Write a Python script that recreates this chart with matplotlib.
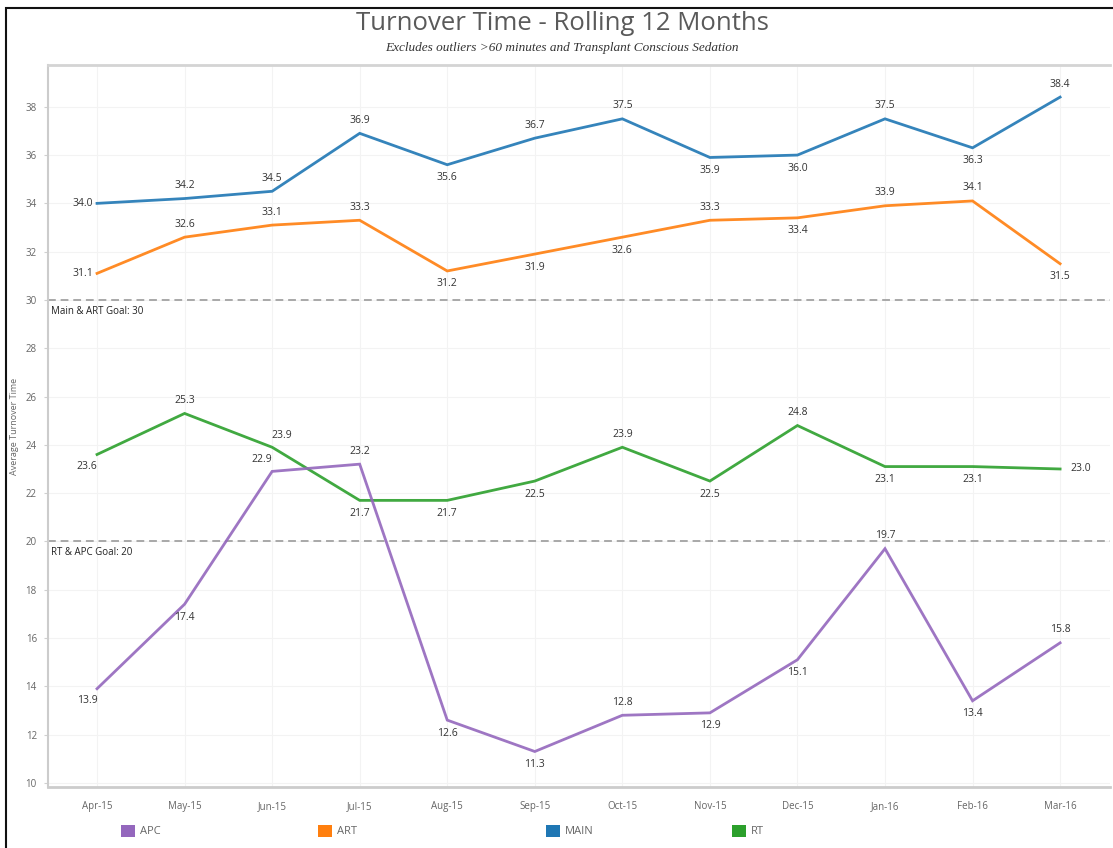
import matplotlib
matplotlib.use("Agg")
import matplotlib.pyplot as plt
import matplotlib.transforms as mtransforms
from matplotlib.patches import Patch, Rectangle

plt.rcParams['font.family'] = ['Open Sans', 'DejaVu Sans']

# ---- data ----
months = ["Apr-15", "May-15", "Jun-15", "Jul-15", "Aug-15", "Sep-15",
          "Oct-15", "Nov-15", "Dec-15", "Jan-16", "Feb-16", "Mar-16"]

main = [34.0, 34.2, 34.5, 36.9, 35.6, 36.7, 37.5, 35.9, 36.0, 37.5, 36.3, 38.4]
art = [31.1, 32.6, 33.1, 33.3, 31.2, 31.9, 32.6, 33.3, 33.4, 33.9, 34.1, 31.5]
rt = [23.6, 25.3, 23.9, 21.7, 21.7, 22.5, 23.9, 22.5, 24.8, 23.1, 23.1, 23.0]
apc = [13.9, 17.4, 22.9, 23.2, 12.6, 11.3, 12.8, 12.9, 15.1, 19.7, 13.4, 15.8]

goal_main_art = 30
goal_rt_apc = 20

# label placement per point: a=above, b=below, l=left, r=right
main_pos = ["l", "a", "a", "a", "b", "a", "a", "b", "b", "a", "b", "a"]
art_pos = ["l", "a", "a", "a", "b", "b", "b", "a", "b", "a", "a", "b"]
rt_pos = ["bl", "a", "ar", "b", "b", "b", "a", "b", "a", "b", "b", "r"]
apc_pos = ["bl", "b", "al", "a", "b", "b", "a", "b", "b", "a", "b", "a"]

colors = {"APC": "#9467bd", "ART": "#ff7f0e", "MAIN": "#1f77b4", "RT": "#2ca02c"}

offsets = {
    "a": (0, 13, "center"), "b": (0, -13, "center"),
    "l": (-4, 0, "right"), "r": (10, 0, "left"),
    "bl": (-10, -12, "center"), "al": (-10, 12, "center"),
    "ar": (10, 12, "center"),
}

# ---- figure ----
fig = plt.figure(figsize=(11.13, 8.48), dpi=100)
W, H = 1113, 848
ax = fig.add_axes([48 / W, 1 - 787 / H, (1110 - 48) / W, (787 - 65) / H])

x = list(range(len(months)))
series = [("MAIN", main, main_pos), ("ART", art, art_pos),
          ("RT", rt, rt_pos), ("APC", apc, apc_pos)]

for name, vals, pos in series:
    ax.plot(x, vals, color=colors[name], lw=2.0, alpha=0.9, solid_joinstyle="miter", zorder=3)
    for xi, v, p in zip(x, vals, pos):
        dx, dy, ha = offsets[p]
        ax.annotate(f"{v:.1f}", (xi, v), xytext=(dx, dy), textcoords="offset pixels",
                    ha=ha, va="center", fontsize=7.5, color="#333333", zorder=4)

# goal lines
trans = mtransforms.blended_transform_factory(ax.transAxes, ax.transData)
for g, txt in [(goal_main_art, "Main & ART Goal: 30"), (goal_rt_apc, "RT & APC Goal: 20")]:
    ax.axhline(g, color="#a8a8a8", lw=1.4, ls=(0, (4, 2.5)), zorder=2)
    ax.text(0.003, g - 0.25, txt, transform=trans, ha="left", va="top",
            fontsize=7, color="#222222")

ax.set_xlim(-0.56, 11.57)
ax.set_ylim(9.83, 39.73)
ax.set_xticks(x)
ax.set_xticklabels(months)
ax.set_yticks(range(10, 40, 2))
ax.tick_params(axis="x", length=0, labelsize=7, labelcolor="#666666", pad=10)
ax.tick_params(axis="y", length=3, color="#d0d0d0", labelsize=7, labelcolor="#666666", pad=5)
ax.set_ylabel("Average Turnover Time", fontsize=6.5, color="#666666")
ax.yaxis.set_label_coords(-0.027, 0.5)

ax.grid(True, color="#f3f3f3", lw=0.8, zorder=0)
ax.spines["right"].set_visible(False)
ax.spines["left"].set_color("#cccccc")
ax.spines["left"].set_linewidth(1.5)
ax.spines["top"].set_color("#d4d4d4")
ax.spines["top"].set_linewidth(2)
ax.spines["bottom"].set_color("#cccccc")
ax.spines["bottom"].set_linewidth(2)

# titles
fig.text(562 / W, 1 - 23 / H, "Turnover Time - Rolling 12 Months", ha="center", va="center",
         fontsize=18.5, color="#5a5a5a")
fig.text(562 / W, 1 - 48 / H,
         "Excludes outliers >60 minutes and Transplant Conscious Sedation",
         ha="center", va="center", fontsize=9.5, style="italic", color="#333333",
         family=["Liberation Serif", "DejaVu Serif"])

# legend entries along the bottom
legend_x = {"APC": 121, "ART": 318, "MAIN": 546, "RT": 732}
for name in ["APC", "ART", "MAIN", "RT"]:
    leg = fig.legend(handles=[Patch(facecolor=colors[name], edgecolor="none", label=name)],
                     loc="center left", bbox_to_anchor=(legend_x[name] / W, 1 - 831 / H),
                     frameon=False, fontsize=8, handlelength=1.3, handleheight=1.3,
                     handletextpad=0.4, borderpad=0, borderaxespad=0)
    for t in leg.get_texts():
        t.set_color("#666666")

# outer frame
fig.patches.append(Rectangle((6 / W, -0.05), 1.2, 1 - 8 / H + 0.05, transform=fig.transFigure,
                             fill=False, edgecolor="#111111", lw=1.5))

fig.savefig("out.png", dpi=100)
